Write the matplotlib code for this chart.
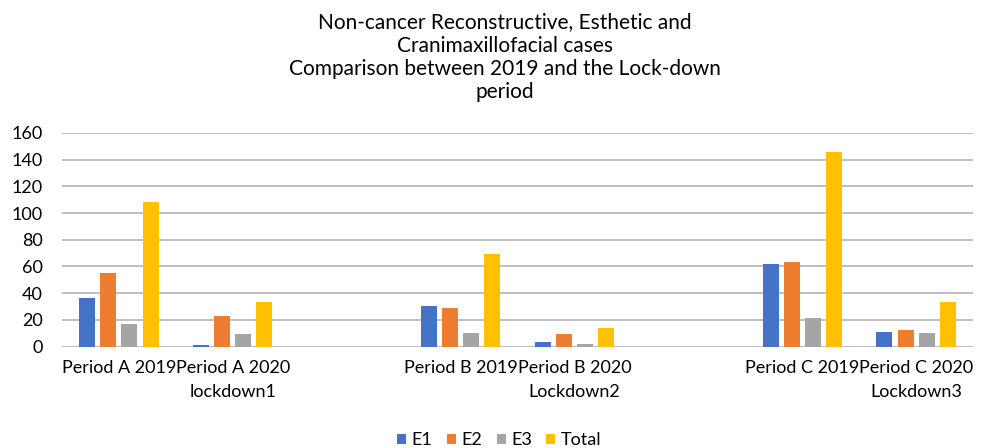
import numpy as np
import matplotlib.pyplot as plt

plt.rcParams['font.family'] = ['Lato', 'DejaVu Sans']

# categories (empty slots keep the gaps between the periods)
categories = ['Period A 2019', 'Period A 2020\nlockdown1', '',
              'Period B 2019', 'Period B 2020\nLockdown2', '',
              'Period C 2019', 'Period C 2020\nLockdown3']
e1 = [36, 1, np.nan, 30, 3, np.nan, 62, 11]
e2 = [55, 23, np.nan, 29, 9, np.nan, 63, 12]
e3 = [17, 9, np.nan, 10, 2, np.nan, 21, 10]
total = [108, 33, np.nan, 69, 14, np.nan, 146, 33]

series = [('E1', e1, '#4472C4'), ('E2', e2, '#ED7D31'),
          ('E3', e3, '#A5A5A5'), ('Total', total, '#FFC000')]

fig = plt.figure(figsize=(9.88, 4.48), dpi=100)
ax = fig.add_axes([62 / 988, 101.5 / 448, 911 / 988, 213.5 / 448])

x = np.arange(len(categories))
w = 0.14
step = 0.185
for i, (name, vals, col) in enumerate(series):
    ax.bar(x + (i - 1.5) * step, vals, width=w, color=col, label=name, zorder=3)

ax.set_xlim(-0.5, len(categories) - 0.5)
ax.set_ylim(0, 160)
ax.set_yticks(range(0, 161, 20))
ax.set_xticks(x)
ax.set_xticklabels(categories, fontsize=13, linespacing=1.6)
ax.tick_params(axis='both', length=0, labelsize=13, colors='#000000')
ax.tick_params(axis='x', pad=10)
ax.tick_params(axis='y', pad=14)
ax.grid(axis='y', color='#BFBFBF', linewidth=1.4, zorder=0)
for s in ax.spines.values():
    s.set_visible(False)

fig.text(0.511, 0.972, 'Non-cancer Reconstructive, Esthetic and\nCranimaxillofacial cases\n'
         'Comparison between 2019 and the Lock-down\nperiod',
         ha='center', va='top', fontsize=15, linespacing=1.2)

ax.legend(loc='center', bbox_to_anchor=(0.48, -0.44), ncol=4, frameon=False,
          fontsize=13, handlelength=0.5, handleheight=0.5, handletextpad=0.3,
          columnspacing=0.8)

fig.savefig('out.png', dpi=100)
